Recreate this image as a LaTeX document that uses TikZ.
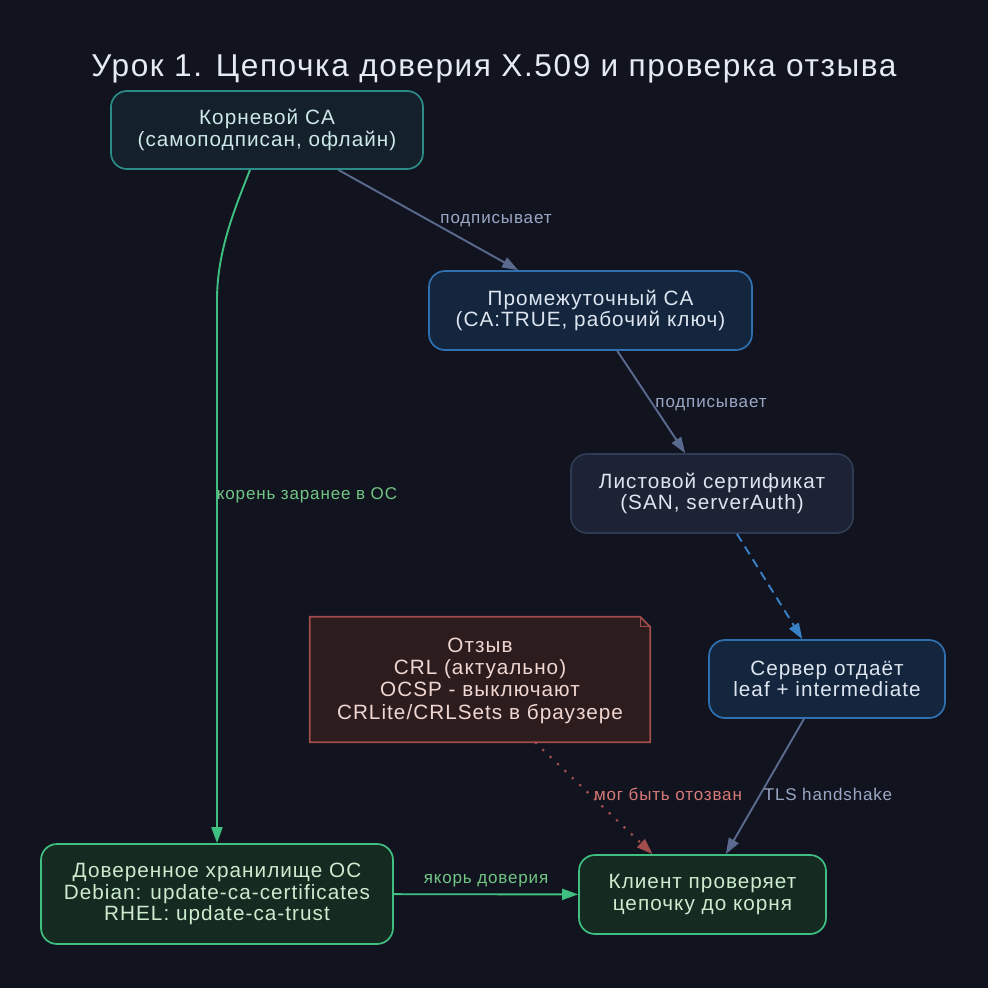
\documentclass[tikz,border=0pt]{standalone}
\usepackage{fontspec}
\setmainfont{Liberation Sans}
\newfontfamily\spaced[LetterSpace=5]{Liberation Sans}
\usetikzlibrary{arrows.meta,calc}
\definecolor{bg}{HTML}{11141F}
\definecolor{titlec}{HTML}{E6EBF2}
\definecolor{rootfill}{HTML}{14202A}
\definecolor{rootdraw}{HTML}{2B8C87}
\definecolor{roottext}{HTML}{CDE8EA}
\definecolor{bluefill}{HTML}{14263D}
\definecolor{bluedraw}{HTML}{3070B0}
\definecolor{bluetext}{HTML}{DDE5F0}
\definecolor{leaffill}{HTML}{1C2334}
\definecolor{leafdraw}{HTML}{2E3B52}
\definecolor{greenfill}{HTML}{152A20}
\definecolor{greendraw}{HTML}{3FBF82}
\definecolor{greentext}{HTML}{CDEBCF}
\definecolor{notefill}{HTML}{2C1C1E}
\definecolor{notedraw}{HTML}{A24D4D}
\definecolor{notetext}{HTML}{F0D6D0}
\definecolor{signc}{HTML}{5A6A8E}
\definecolor{signlbl}{HTML}{9AA8C6}
\definecolor{greenlbl}{HTML}{72C684}
\definecolor{dashblue}{HTML}{3A80C6}
\definecolor{redlbl}{HTML}{D87A78}
\tikzset{
  box/.style={rounded corners=16pt, line width=1.7pt, align=center, inner sep=0pt,
    font=\spaced\fontsize{20.7}{21.7}\selectfont},
  rootbox/.style={box, fill=rootfill, draw=rootdraw, text=roottext},
  bluebox/.style={box, fill=bluefill, draw=bluedraw, text=bluetext},
  leafbox/.style={box, fill=leaffill, draw=leafdraw, text=bluetext},
  greenbox/.style={box, fill=greenfill, draw=greendraw, text=greentext},
  lbl/.style={font=\spaced\fontsize{17}{19}\selectfont, inner sep=0pt},
  conn/.style={line width=1.9pt, -{Triangle[length=16pt,width=11pt]}},
}
\begin{document}
\begin{tikzpicture}[x=1pt,y=-1pt]
\fill[bg] (0,0) rectangle (988,988);
\useasboundingbox (0,0) rectangle (988,988);
\node[text=titlec, font=\spaced\fontsize{31.6}{36}\selectfont, inner sep=0pt] (title) at (494,69) {Урок 1. Цепочка доверия X.509 и проверка отзыва};

\node[rootbox, minimum width=312pt, minimum height=78pt] (root) at (267,130) {Корневой CA\\(самоподписан, офлайн)};
\node[bluebox, minimum width=323pt, minimum height=79pt] (inter) at (590.5,310.5) {Промежуточный CA\\(CA:TRUE, рабочий ключ)};
\node[leafbox, minimum width=282pt, minimum height=79pt] (leaf) at (712,493.5) {Листовой сертификат\\(SAN, serverAuth)};
\node[bluebox, minimum width=236pt, minimum height=78pt] (server) at (827,679) {Сервер отдаёт\\leaf + intermediate};
\node[greenbox, minimum width=352pt, minimum height=100pt] (store) at (217,894) {Доверенное хранилище ОС\\Debian: update-ca-certificates\\RHEL: update-ca-trust};
\node[greenbox, minimum width=247pt, minimum height=79pt] (client) at (702.5,894.5) {Клиент проверяет\\цепочку до корня};

% note
\node[minimum width=340pt, minimum height=125pt, inner sep=0pt] (note) at (480,679.5) {};
\filldraw[fill=notefill, draw=notedraw, line width=1.7pt]
  (note.north west) -- ([xshift=-10pt]note.north east) -- ([yshift=-10pt]note.north east) -- (note.south east) -- (note.south west) -- cycle;
\draw[notedraw, line width=1.2pt] ([xshift=-10pt]note.north east) -- ([xshift=-10pt,yshift=-10pt]note.north east) -- ([yshift=-10pt]note.north east);
\node[align=center, text=notetext, font=\spaced\fontsize{20.7}{22.3}\selectfont, inner sep=0pt] (notetxt) at ([yshift=-1pt]note.center) {Отзыв\\CRL (актуально)\\OCSP - выключают\\CRLite/CRLSets в браузере};

% connectors
\draw[conn, signc] (root) -- (inter);
\node[lbl, text=signlbl] (l1) at (496,221) {подписывает};
\draw[conn, signc] (inter) -- (leaf);
\node[lbl, text=signlbl] (l2) at (711,405) {подписывает};
\draw[conn, dashblue, dash pattern=on 9pt off 6pt] (leaf) -- (server);
\draw[conn, signc] (server) -- (client);
\node[lbl, text=signlbl] (l3) at (828,794) {TLS handshake};
\draw[conn, notedraw, line width=2.2pt, dash pattern=on 2.2pt off 8pt] ([xshift=55pt]note.south) -- ([xshift=-50pt]client.north);
\node[lbl, text=redlbl] (l4) at (668,794) {мог быть отозван};
\draw[conn, greendraw] ([xshift=-17pt]root.south) .. controls ++(-14,36) and (217,250) .. (217,300) -- (store.north);
\node[lbl, text=greenlbl] (l5) at (307,495) {корень заранее в ОС};
\draw[conn, greendraw] (store) -- (client);
\node[lbl, text=greenlbl] (l6) at (486,881) {якорь доверия};
\end{tikzpicture}
\end{document}
